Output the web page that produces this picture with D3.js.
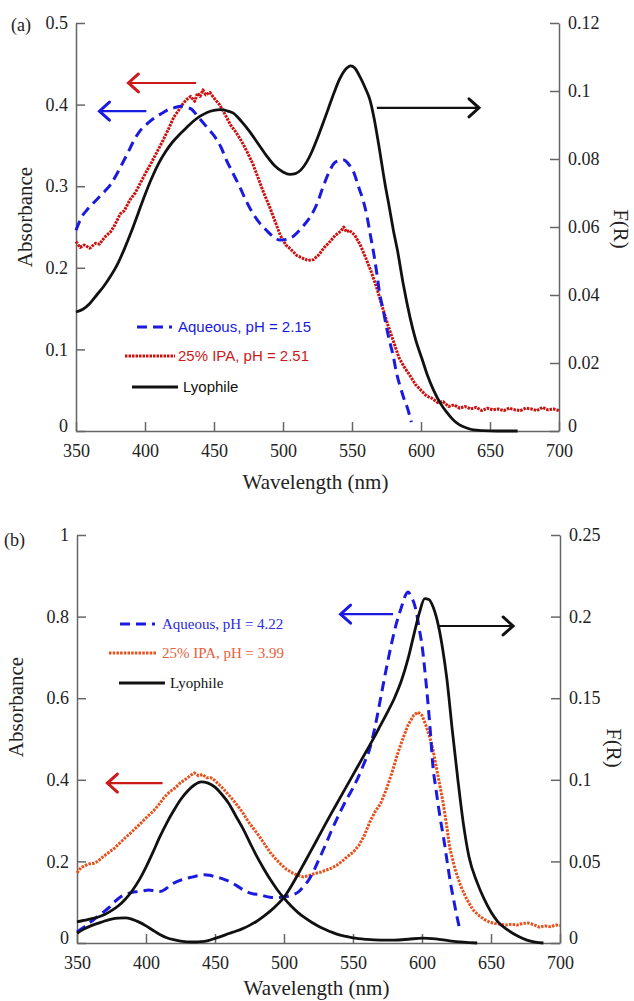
<!DOCTYPE html>
<html lang="en">
<head>
  <meta charset="UTF-8">
  <title>Absorbance and F(R) spectra</title>
  <script src="https://d3js.org/d3.v7.min.js"></script>
  <style>
    body { margin: 0; padding: 0; background: #fff; }
    svg { display: block; }
    .tick text { font-family: "Liberation Serif", "Times New Roman", Times, "DejaVu Serif", "Noto Serif", serif; font-size: 18px; fill: #222; }
    .axis path, .axis line { stroke: #666; stroke-width: 1.5; }
    .title { font-family: "Liberation Serif", "Times New Roman", Times, "DejaVu Serif", "Noto Serif", serif; fill: #222; }
  </style>
</head>
<body>
<svg id="chart" width="634" height="1001"></svg>
<script>
  // ---- panel (a) data: [wavelength nm, value] ----
  const aqueousA = [[350,0.246],[354,0.262],[358,0.271],[363,0.28],[367,0.287],[371,0.294],[375,0.302],[379,0.313],[383,0.326],[387,0.339],[392,0.356],[396,0.367],[400,0.374],[404,0.38],[408,0.385],[413,0.39],[417,0.394],[421,0.396],[426,0.398],[430,0.397],[434,0.394],[438,0.386],[442,0.378],[446,0.37],[450,0.362],[455,0.348],[459,0.332],[464,0.315],[469,0.298],[473,0.283],[478,0.267],[483,0.255],[488,0.246],[493,0.238],[498,0.234],[503,0.235],[507,0.238],[512,0.246],[516,0.254],[520,0.263],[525,0.28],[529,0.299],[533,0.316],[537,0.328],[540,0.331],[544,0.332],[548,0.326],[551,0.318],[555,0.298],[558,0.283],[561,0.262],[563,0.243],[566,0.215],[568,0.193],[570,0.169],[573,0.145],[575,0.127],[578,0.105],[580,0.091],[582,0.073],[585,0.054],[588,0.038],[590,0.029],[593,0.011]];
  const ipaA = [[350,0.232],[353,0.225],[356,0.228],[360,0.224],[364,0.23],[367,0.229],[371,0.238],[375,0.244],[378,0.252],[382,0.266],[385,0.27],[389,0.283],[393,0.292],[397,0.305],[401,0.318],[405,0.33],[409,0.343],[413,0.356],[417,0.37],[421,0.385],[424,0.392],[427,0.4],[430,0.406],[433,0.41],[436,0.404],[438,0.414],[440,0.41],[442,0.418],[444,0.412],[447,0.415],[450,0.408],[454,0.4],[458,0.388],[462,0.375],[466,0.366],[470,0.355],[474,0.342],[478,0.328],[482,0.31],[486,0.292],[490,0.276],[494,0.258],[498,0.24],[502,0.228],[506,0.222],[510,0.215],[514,0.212],[518,0.209],[522,0.21],[526,0.216],[530,0.225],[534,0.232],[538,0.24],[542,0.245],[544,0.25],[546,0.244],[548,0.246],[552,0.24],[556,0.228],[560,0.212],[564,0.195],[568,0.175],[572,0.152],[576,0.13],[580,0.11],[584,0.09],[588,0.078],[592,0.068],[596,0.057],[600,0.05],[604,0.043],[608,0.04],[612,0.035],[616,0.036],[620,0.03],[624,0.032],[628,0.028],[632,0.03],[636,0.027],[640,0.029],[644,0.025],[648,0.028],[652,0.026],[656,0.027],[660,0.025],[664,0.028],[668,0.026],[672,0.025],[676,0.028],[680,0.027],[684,0.025],[688,0.029],[692,0.026],[696,0.027],[700,0.025]];
  // lyophile, F(R) (right axis)
  const lyoA = [[350,0.035],[355,0.0358],[360,0.0375],[365,0.04],[370,0.0425],[375,0.0455],[380,0.049],[385,0.0535],[390,0.0585],[395,0.064],[400,0.0695],[405,0.0745],[410,0.0788],[415,0.0822],[420,0.085],[425,0.0872],[430,0.0892],[435,0.0911],[440,0.0926],[445,0.0937],[450,0.0943],[455,0.0945],[460,0.0941],[464,0.0935],[470,0.091],[476,0.088],[482,0.0845],[488,0.081],[494,0.078],[500,0.0762],[505,0.0755],[509,0.0757],[513,0.0768],[517,0.079],[521,0.0822],[525,0.0862],[529,0.0905],[533,0.095],[537,0.0995],[541,0.1035],[545,0.1062],[549,0.1074],[552,0.1068],[556,0.104],[560,0.1005],[563,0.0974],[566,0.092],[570,0.0826],[574,0.0725],[577,0.0659],[580,0.059],[583,0.053],[587,0.0435],[592,0.0335],[596,0.027],[601,0.0209],[605,0.016],[609,0.0121],[614,0.0082],[619,0.0053],[624,0.003],[628,0.0018],[633,0.0009],[638,0.0003],[645,0.0001],[655,0],[670,0]];

  // ---- panel (b) data ----
  const aqueousB = [[350,0.027],[354,0.036],[358,0.047],[362,0.057],[366,0.068],[370,0.078],[374,0.089],[378,0.103],[382,0.114],[386,0.12],[390,0.124],[394,0.126],[398,0.128],[402,0.13],[406,0.128],[410,0.126],[414,0.132],[418,0.143],[422,0.15],[426,0.155],[430,0.159],[434,0.162],[438,0.165],[442,0.167],[446,0.166],[450,0.162],[454,0.159],[458,0.154],[462,0.148],[466,0.14],[470,0.131],[474,0.124],[478,0.12],[482,0.119],[486,0.115],[490,0.112],[494,0.111],[498,0.112],[502,0.114],[506,0.118],[510,0.124],[514,0.138],[518,0.155],[522,0.18],[526,0.21],[530,0.24],[534,0.272],[538,0.302],[542,0.33],[546,0.356],[550,0.38],[554,0.408],[558,0.44],[562,0.475],[566,0.53],[570,0.6],[574,0.67],[578,0.735],[582,0.79],[585,0.822],[588,0.852],[590,0.86],[592,0.85],[594,0.835],[596,0.81],[598,0.77],[600,0.73],[602,0.67],[604,0.6],[606,0.52],[608,0.43],[610,0.38],[613,0.31],[616,0.25],[618,0.205],[621,0.14],[623,0.105],[625,0.07],[627.5,0.032]];
  const ipaB = [[350,0.172],[353,0.185],[356,0.19],[359,0.194],[362,0.195],[365,0.2],[369,0.212],[373,0.222],[377,0.232],[381,0.245],[385,0.258],[389,0.27],[393,0.283],[397,0.296],[401,0.31],[405,0.322],[409,0.338],[413,0.356],[417,0.37],[421,0.38],[425,0.393],[429,0.402],[432,0.41],[435,0.417],[438,0.41],[441,0.413],[444,0.405],[447,0.405],[450,0.398],[454,0.385],[458,0.37],[462,0.355],[466,0.338],[470,0.32],[474,0.298],[478,0.28],[482,0.262],[486,0.242],[490,0.222],[494,0.206],[498,0.192],[502,0.18],[506,0.172],[510,0.166],[514,0.162],[518,0.165],[522,0.17],[526,0.173],[530,0.178],[534,0.183],[538,0.19],[542,0.2],[546,0.212],[550,0.222],[554,0.238],[558,0.262],[562,0.295],[566,0.322],[570,0.342],[574,0.375],[578,0.415],[582,0.46],[586,0.5],[590,0.535],[594,0.558],[597,0.566],[600,0.558],[603,0.532],[606,0.5],[608,0.473],[611,0.42],[615,0.35],[618,0.285],[620,0.235],[624,0.18],[628,0.14],[632,0.11],[637,0.081],[641,0.068],[645,0.058],[649,0.051],[653,0.048],[657,0.046],[661,0.044],[665,0.046],[669,0.044],[673,0.048],[677,0.049],[681,0.045],[685,0.039],[689,0.042],[693,0.04],[697,0.044],[700,0.043]];
  // two lyophile F(R) traces (right axis)
  const lyoB1 = [[350,0.0129],[355,0.0138],[360,0.0148],[365,0.0158],[370,0.0175],[375,0.0198],[380,0.0228],[385,0.0268],[390,0.032],[395,0.0385],[400,0.0465],[405,0.0555],[410,0.065],[415,0.0735],[420,0.081],[425,0.0878],[430,0.093],[435,0.0968],[440,0.0987],[445,0.098],[450,0.0955],[455,0.091],[460,0.0855],[465,0.078],[470,0.0705],[475,0.062],[480,0.0535],[485,0.046],[490,0.039],[495,0.0328],[500,0.0275],[505,0.0228],[510,0.0188],[515,0.0155],[520,0.0127],[525,0.0103],[530,0.0083],[535,0.0065],[540,0.005],[545,0.004],[550,0.0031],[560,0.0022],[570,0.0018],[580,0.0018],[590,0.0023],[600,0.003],[610,0.0025],[620,0.0013],[630,0.0005],[640,0]];
  const lyoB2 = [[350,0.006],[355,0.0085],[360,0.0105],[365,0.012],[370,0.0135],[375,0.0147],[380,0.0153],[385,0.0154],[390,0.0145],[395,0.0128],[400,0.0105],[405,0.0078],[410,0.0052],[415,0.0032],[420,0.002],[425,0.0012],[430,0.0007],[435,0.0006],[440,0.0008],[445,0.0015],[450,0.0028],[455,0.0042],[460,0.0058],[465,0.0072],[470,0.0088],[475,0.0108],[480,0.0132],[485,0.0162],[490,0.0195],[495,0.0235],[500,0.028],[505,0.0345],[510,0.0418],[515,0.0495],[520,0.0572],[525,0.065],[530,0.0728],[535,0.0805],[540,0.088],[545,0.0955],[550,0.103],[555,0.1105],[560,0.118],[565,0.1255],[570,0.1335],[575,0.1415],[580,0.15],[585,0.1605],[590,0.1745],[594,0.1885],[598,0.202],[602,0.211],[605,0.2105],[608,0.206],[612,0.194],[615,0.18],[618,0.162],[622,0.13],[626,0.1],[630,0.073],[634,0.053],[640,0.037],[645,0.027],[650,0.019],[655,0.013],[662,0.008],[670,0.004],[676,0.0018],[682,0.0006],[688,0]];

  // ticks
  const xTicks = [350, 400, 450, 500, 550, 600, 650, 700];
  const leftTicksA = [0, 0.1, 0.2, 0.3, 0.4, 0.5];
  const rightTicksA = [0, 0.02, 0.04, 0.06, 0.08, 0.1, 0.12];
  const leftTicksB = [0, 0.2, 0.4, 0.6, 0.8, 1];
  const rightTicksB = [0, 0.05, 0.1, 0.15, 0.2, 0.25];

  // legend labels
  const legendA = ["Aqueous, pH = 2.15", "25% IPA, pH = 2.51", "Lyophile"];
  const legendB = ["Aqueous, pH = 4.22", "25% IPA, pH = 3.99", "Lyophile"];

  // arrows: [from wl, to wl, absorbance level, colour]
  const arrowsA = [[437, 388, 0.4265, "#cc1a1a"], [401, 367, 0.392, "#1a1ae0"], [568, 642, 0.396, "#111"]];
  const arrowsB = [[579, 541, 0.806, "#1a1ae0"], [412, 372, 0.392, "#cc1a1a"], [612, 666, 0.777, "#111"]];

  const svg = d3.select("#chart");
  const fmt = d => String(+d.toFixed(3));
  const serif = "'Liberation Serif', 'Times New Roman', Times, 'DejaVu Serif', 'Noto Serif', serif";

  const styles = {
    blue: { stroke: "#1a1ae0", width: 3, dash: "10,6" },
    redA: { stroke: "#cc1111", width: 3, dash: "2.5,1" },
    redB: { stroke: "#e8501c", width: 3, dash: "2.5,1.2" },
    black: { stroke: "#111", width: 2.8, dash: null }
  };

  function panel(cfg) {
    const g = svg.append("g");
    const x = d3.scaleLinear().domain([350, 700]).range([cfg.left, cfg.right]);
    const yL = d3.scaleLinear().domain([0, cfg.leftMax]).range([cfg.bottom, cfg.top]);
    const yR = d3.scaleLinear().domain([0, cfg.rightMax]).range([cfg.bottom, cfg.top]);

    // axes (ticks point inward)
    const ax = g.append("g").attr("class", "axis").attr("transform", `translate(0,${cfg.bottom})`)
      .call(d3.axisBottom(x).tickValues(xTicks).tickSizeInner(-9).tickSizeOuter(0).tickPadding(13));
    const al = g.append("g").attr("class", "axis").attr("transform", `translate(${cfg.left},0)`)
      .call(d3.axisLeft(yL).tickValues(cfg.leftTicks).tickFormat(fmt).tickSizeInner(-9).tickSizeOuter(0).tickPadding(8));
    const ar = g.append("g").attr("class", "axis").attr("transform", `translate(${cfg.right},0)`)
      .call(d3.axisRight(yR).tickValues(cfg.rightTicks).tickFormat(fmt).tickSizeInner(-9).tickSizeOuter(0).tickPadding(9));
    [ax, al, ar].forEach(a => a.attr("font-family", serif).select(".domain").attr("stroke", "#666"));
    al.selectAll(".tick").filter(d => d === 0).select("text").attr("dy", "0.05em");
    ar.selectAll(".tick").filter(d => d === 0).select("text").attr("dy", "0.05em");

    // curves
    function draw(data, y, st, curve) {
      g.append("path").datum(data)
        .attr("d", d3.line().x(d => x(d[0])).y(d => y(d[1])).curve(curve))
        .attr("fill", "none").attr("stroke", st.stroke).attr("stroke-width", st.width)
        .attr("stroke-dasharray", st.dash).attr("stroke-linejoin", "round");
    }
    cfg.series.forEach(s => draw(s.data, s.right ? yR : yL, s.style, s.curve));

    // arrows
    cfg.arrows.forEach(a => {
      const x1 = x(a[0]), x2 = x(a[1]), yy = yL(a[2]);
      const dir = Math.sign(x2 - x1);
      g.append("line").attr("x1", x1).attr("x2", x2).attr("y1", yy).attr("y2", yy)
        .attr("stroke", a[3]).attr("stroke-width", 2.2);
      g.append("path")
        .attr("d", `M${x2 - dir * 10},${yy - 9}L${x2},${yy}L${x2 - dir * 10},${yy + 9}`)
        .attr("fill", "none").attr("stroke", a[3]).attr("stroke-width", 3).attr("stroke-linecap", "round");
    });

    // legend
    const lg = g.append("g");
    cfg.legend.forEach((lab, i) => {
      const it = cfg.legendItems[i];
      lg.append("line").attr("x1", it.x1).attr("x2", it.x2).attr("y1", it.y).attr("y2", it.y)
        .attr("stroke", it.style.stroke).attr("stroke-width", it.style.width)
        .attr("stroke-dasharray", it.style.dash);
      lg.append("text").attr("x", it.tx).attr("y", it.y).attr("dy", "0.35em")
        .style("font-family", cfg.legendFont).style("font-size", cfg.legendSize + "px")
        .attr("fill", it.color).text(lab);
    });

    // labels
    g.append("text").attr("class", "title").attr("x", cfg.tagX).attr("y", cfg.tagY)
      .style("font-size", "18px").text(cfg.tag);
    g.append("text").attr("class", "title").style("font-size", "21px").attr("text-anchor", "middle")
      .attr("transform", `translate(${cfg.absX},${cfg.absY}) rotate(-90)`).text("Absorbance");
    g.append("text").attr("class", "title").style("font-size", "21px").attr("text-anchor", "middle")
      .attr("transform", `translate(${cfg.frX},${cfg.frY}) rotate(90)`).text("F(R)");
    g.append("text").attr("class", "title").style("font-size", "21px").attr("text-anchor", "middle")
      .attr("x", (cfg.left + cfg.right) / 2 - 2).attr("y", cfg.wlY).text("Wavelength (nm)");
  }

  panel({
    left: 76, right: 559, top: 23, bottom: 431, leftMax: 0.5, rightMax: 0.12,
    leftTicks: leftTicksA, rightTicks: rightTicksA,
    series: [
      { data: ipaA, style: styles.redA, curve: d3.curveLinear },
      { data: aqueousA, style: styles.blue, curve: d3.curveMonotoneX },
      { data: lyoA, style: styles.black, right: true, curve: d3.curveMonotoneX }
    ],
    arrows: arrowsA,
    legend: legendA,
    legendFont: "'Liberation Sans', Arial, sans-serif", legendSize: 15,
    legendItems: [
      { x1: 137, x2: 172, y: 327, tx: 178, style: styles.blue, color: "#1a1ae0" },
      { x1: 125, x2: 175, y: 356, tx: 178, style: styles.redA, color: "#cc1a1a" },
      { x1: 132, x2: 178, y: 387, tx: 183, style: styles.black, color: "#111" }
    ],
    tag: "(a)", tagX: 11, tagY: 31,
    absX: 32, absY: 217, frX: 614, frY: 229, wlY: 489
  });

  panel({
    left: 77, right: 560, top: 535, bottom: 943, leftMax: 1, rightMax: 0.25,
    leftTicks: leftTicksB, rightTicks: rightTicksB,
    series: [
      { data: ipaB, style: styles.redB, curve: d3.curveLinear },
      { data: aqueousB, style: styles.blue, curve: d3.curveMonotoneX },
      { data: lyoB1, style: styles.black, right: true, curve: d3.curveMonotoneX },
      { data: lyoB2, style: styles.black, right: true, curve: d3.curveMonotoneX }
    ],
    arrows: arrowsB,
    legend: legendB,
    legendFont: serif, legendSize: 15,
    legendItems: [
      { x1: 120, x2: 155, y: 624, tx: 162, style: styles.blue, color: "#2a2ae0" },
      { x1: 109, x2: 157, y: 653, tx: 162, style: styles.redB, color: "#e8603a" },
      { x1: 119, x2: 165, y: 683, tx: 170, style: styles.black, color: "#111" }
    ],
    tag: "(b)", tagX: 4, tagY: 546,
    absX: 23, absY: 707, frX: 607, frY: 748, wlY: 995
  });
</script>
</body>
</html>
